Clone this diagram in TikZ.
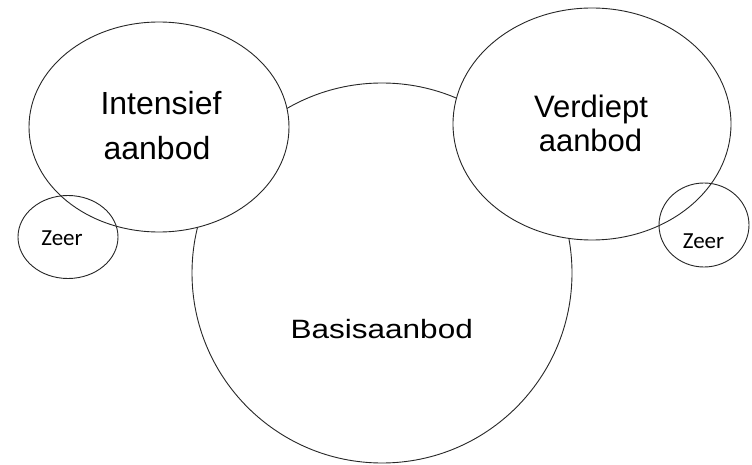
\documentclass[tikz,border=0pt]{standalone}
\usepackage{fontspec}
\setmainfont{Liberation Sans}
\newfontfamily\calfont{Carlito}
\usetikzlibrary{shapes.geometric}
\tikzset{
  outl/.style={draw=black!85, line width=0.9pt, inner sep=0pt, outer sep=0pt},
  bigtxt/.style={anchor=base, inner sep=0pt, font=\fontsize{32}{38}\selectfont},
  zeertxt/.style={anchor=base, inner sep=0pt, font=\calfont\fontsize{23}{27}\selectfont},
}
\begin{document}
\begin{tikzpicture}[x=1pt,y=-1pt]
\useasboundingbox (0,0) rectangle (752,465);
% shapes
\node[outl, circle, fill=white, minimum size=380pt] (basis) at (382,273) {};
\node[outl, ellipse, fill=white, minimum width=260pt, minimum height=210pt] (intens) at (159,127) {};
\node[outl, ellipse, fill=white, minimum width=278pt, minimum height=232pt] (verd) at (592,124) {};
\node[outl, ellipse, minimum width=100pt, minimum height=83pt] (zeerL) at (68,237) {};
\node[outl, ellipse, minimum width=90pt, minimum height=84pt] (zeerR) at (704,225) {};
% texts
\node[bigtxt] (t1a) at (161,115) {Intensief};
\node[bigtxt] (t1b) at (157,160) {aanbod};
\node[bigtxt, font=\fontsize{31}{36}\selectfont] (t2a) at (591,117.3) {Verdiept};
\node[bigtxt, font=\fontsize{31}{36}\selectfont] (t2b) at (590.5,151.7) {aanbod};
\node[bigtxt, font=\fontsize{26.5}{32}\selectfont] (t3) at (381.7,338) {\scalebox{1.19}[1]{Basisaanbod}};
\node[zeertxt] (z1) at (62,245) {Zeer};
\node[zeertxt] (z2) at (703.5,248) {Zeer};
\end{tikzpicture}
\end{document}
